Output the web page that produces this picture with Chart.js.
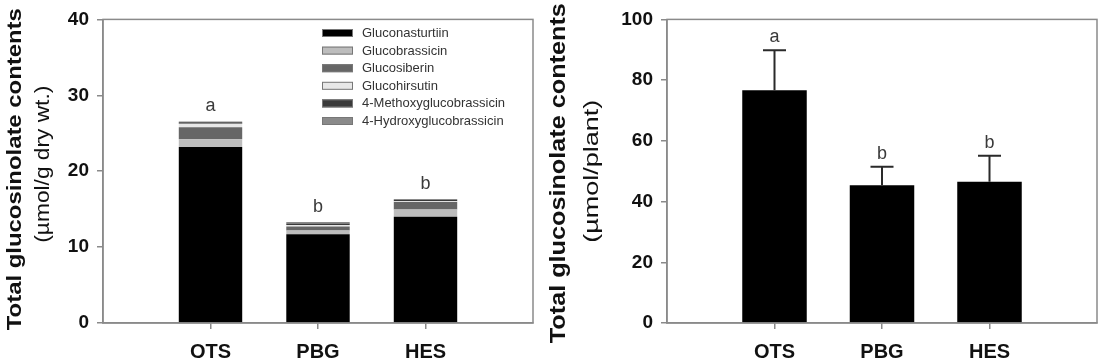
<!DOCTYPE html>
<html><head><meta charset="utf-8">
<script src="https://cdn.jsdelivr.net/npm/chart.js@4.4.1/dist/chart.umd.min.js"></script>
<style>
html,body{margin:0;padding:0;background:#fff;}
#wrap{position:relative;width:1100px;height:363px;overflow:hidden;}
.box{position:absolute;top:0;height:363px;}
#b1{left:0;width:550px}
#b2{left:530px;width:570px}
</style></head><body>
<div id="wrap"><div class="box" id="b1"><canvas id="c1"></canvas></div><div class="box" id="b2"><canvas id="c2"></canvas></div></div>
<script>
// ---------- data ----------
const categories = ['OTS', 'PBG', 'HES'];
const compounds = ['Gluconasturtiin', 'Glucobrassicin', 'Glucosiberin', 'Glucohirsutin', '4-Methoxyglucobrassicin', '4-Hydroxyglucobrassicin'];
const gluconasturtiin = [23.2, 11.7, 14.0];
const glucobrassicin = [1.0, 0.5, 0.95];
const glucosiberin = [1.6, 0.5, 1.0];
const glucohirsutin = [0.45, 0.2, 0.1];
const methoxyglucobrassicin = [0.2, 0.2, 0.15];
const hydroxyglucobrassicin = [0.1, 0.2, 0.15];
const lettersDry = ['a', 'b', 'b'];
const perPlant = [76.7, 45.4, 46.5];
const perPlantErr = [13.1, 6.1, 8.6];
const lettersPlant = ['a', 'b', 'b'];
const yTicksDry = [0, 10, 20, 30, 40];
const yTicksPlant = [0, 20, 40, 60, 80, 100];
const titleDry = ['Total glucosinolate contents', '(\u00b5mol/g dry wt.)'];
const titlePlant = ['Total glucosinolate contents', '(\u00b5mol/plant)'];

// ---------- styles ----------
const FONT = "'Liberation Sans', Arial, sans-serif";
const AXIS = '#8a8a8a';
const stackColors = ['#000000', '#bdbdbd', '#666666', '#e8e8e8', '#3a3a3a', '#8a8a8a'];
const stackSeries = [gluconasturtiin, glucobrassicin, glucosiberin, glucohirsutin, methoxyglucobrassicin, hydroxyglucobrassicin];

function toXY(arr) { return arr.map((v, i) => ({ x: i + 1, y: v })); }

function xScale() {
  return {
    type: 'linear', min: 0, max: 4, stacked: true, offset: false,
    afterBuildTicks(s) { s.ticks = categories.map((c, i) => ({ value: i + 1 })); },
    afterFit(s) { s.height = 40; },
    ticks: { callback: (v) => categories[v - 1] ?? '', font: { family: FONT, size: 20, weight: 'bold' }, color: '#111', padding: 11, maxRotation: 0, autoSkip: false },
    grid: { display: true, offset: false, drawOnChartArea: false, drawTicks: true, tickLength: 6, color: AXIS, lineWidth: 1.5 },
    border: { display: true, color: AXIS, width: 1.5 }
  };
}
function yScale(max, tickVals) {
  return {
    min: 0, max: max, stacked: true,
    afterBuildTicks(s) { s.ticks = tickVals.map(v => ({ value: v })); },
    afterFit(s) { s.width = 60; },
    ticks: { font: { family: FONT, size: 19, weight: 'bold' }, color: '#111', padding: 8 },
    grid: { drawOnChartArea: false, drawTicks: true, tickLength: 6, color: AXIS, lineWidth: 1.5 },
    border: { display: true, color: AXIS, width: 1.5 }
  };
}

const framePlugin = {
  id: 'frame',
  afterDatasetsDraw(chart) {
    const a = chart.chartArea, c = chart.ctx;
    c.save(); c.strokeStyle = AXIS; c.lineWidth = 1.5;
    c.strokeRect(a.left, a.top, a.right - a.left, a.bottom - a.top);
    c.restore();
  }
};

function titlePlugin(lines, pos) {
  return {
    id: 'ytitle',
    afterDraw(chart) {
      const c = chart.ctx, a = chart.chartArea;
      const cy = (a.top + a.bottom) / 2;
      c.save();
      c.fillStyle = '#111';
      c.textAlign = 'center'; c.textBaseline = 'middle';
      lines.forEach((t, k) => {
        c.save();
        c.translate(pos[k].x, cy + pos[k].dy);
        c.rotate(-Math.PI / 2);
        c.font = pos[k].font;
        const w = c.measureText(t).width;
        c.scale(pos[k].len / w, 1);
        c.fillText(t, 0, 0);
        c.restore();
      });
      c.restore();
    }
  };
}

function lettersPlugin(letters, tops, offset) {
  return {
    id: 'letters',
    afterDraw(chart) {
      const c = chart.ctx, xs = chart.scales.x, ys = chart.scales.y;
      c.save();
      c.fillStyle = '#3a3a3a';
      c.font = "18px " + FONT;
      c.textAlign = 'center'; c.textBaseline = 'alphabetic';
      letters.forEach((l, i) => {
        c.fillText(l, xs.getPixelForValue(i + 1), ys.getPixelForValue(tops[i]) - offset);
      });
      c.restore();
    }
  };
}

const legendPlugin = {
  id: 'stackLegend',
  afterDraw(chart) {
    const c = chart.ctx;
    c.save();
    c.font = "13px " + FONT;
    c.textBaseline = 'middle'; c.textAlign = 'left';
    chart.data.datasets.forEach((ds, i) => {
      const y = 33 + i * 17.6;
      c.fillStyle = ds.backgroundColor;
      c.fillRect(322, y - 4, 31, 8);
      c.strokeStyle = '#777'; c.lineWidth = 1;
      c.strokeRect(322.5, y - 3.5, 30, 7);
      c.fillStyle = '#333';
      c.fillText(ds.label, 362, y + 0.5);
    });
    c.restore();
  }
};

// ---------- left chart ----------
const dryTotals = categories.map((_, i) => stackSeries.reduce((s, arr) => s + arr[i], 0));
new Chart(document.getElementById('c1'), {
  type: 'bar',
  data: {
    datasets: compounds.map((name, k) => ({
      label: name, data: toXY(stackSeries[k]), backgroundColor: stackColors[k],
      borderWidth: 0, categoryPercentage: 1, barPercentage: 0.59
    }))
  },
  options: {
    responsive: true, maintainAspectRatio: false, animation: false,
    layout: { padding: { left: 43, top: 14, right: 17, bottom: 0 } },
    plugins: { legend: { display: false }, tooltip: { enabled: false } },
    scales: { x: xScale(), y: yScale(40, yTicksDry) }
  },
  plugins: [framePlugin, legendPlugin, lettersPlugin(lettersDry, dryTotals, 10),
    titlePlugin(titleDry, [
      { x: 15, dy: -2, font: "bold 21px " + FONT, len: 322 },
      { x: 43, dy: -7, font: "20px " + FONT, len: 157 }
    ])]
});

// ---------- right chart ----------
const plantTops = perPlant.map((v, i) => v + perPlantErr[i]);
const errPlugin = {
  id: 'errbars',
  afterDatasetsDraw(chart) {
    const c = chart.ctx, xs = chart.scales.x, ys = chart.scales.y;
    c.save(); c.strokeStyle = '#2a2a2a'; c.lineWidth = 2;
    perPlant.forEach((v, i) => {
      const x = xs.getPixelForValue(i + 1);
      const y0 = ys.getPixelForValue(v), y1 = ys.getPixelForValue(v + perPlantErr[i]);
      c.beginPath();
      c.moveTo(x, y0); c.lineTo(x, y1);
      c.moveTo(x - 11.5, y1); c.lineTo(x + 11.5, y1);
      c.stroke();
    });
    c.restore();
  }
};
new Chart(document.getElementById('c2'), {
  type: 'bar',
  data: {
    datasets: [{ label: 'Total', data: toXY(perPlant), backgroundColor: '#000', borderWidth: 0, categoryPercentage: 1, barPercentage: 0.6 }]
  },
  options: {
    responsive: true, maintainAspectRatio: false, animation: false,
    layout: { padding: { left: 77, top: 13, right: 3, bottom: 0 } },
    plugins: { legend: { display: false }, tooltip: { enabled: false } },
    scales: { x: xScale(), y: yScale(100, yTicksPlant) }
  },
  plugins: [framePlugin, errPlugin, lettersPlugin(lettersPlant, plantTops, 8),
    titlePlugin(titlePlant, [
      { x: 29, dy: 2, font: "bold 22px " + FONT, len: 340 },
      { x: 62, dy: 0, font: "21px " + FONT, len: 143 }
    ])]
});
</script>
</body></html>
